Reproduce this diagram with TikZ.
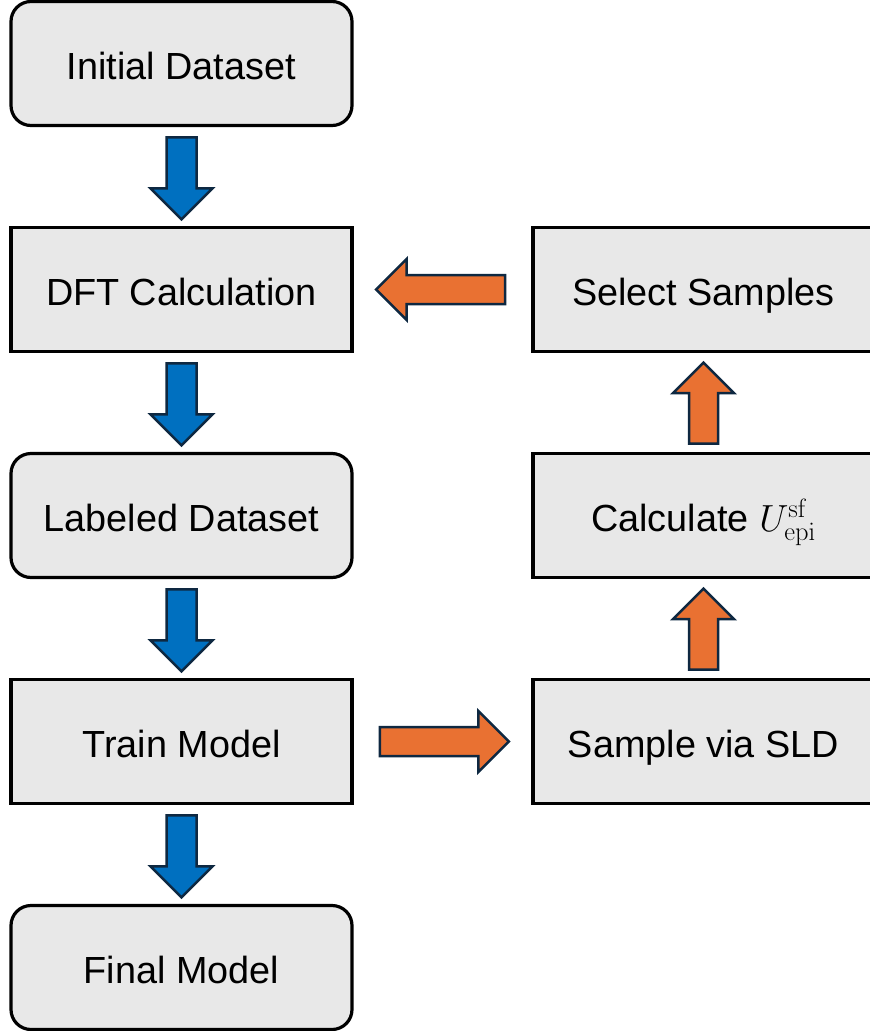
\documentclass[tikz,border=0pt]{standalone}
\usepackage{fix-cm}
\usepackage[no-math]{fontspec}
\setmainfont{Liberation Sans}
\usetikzlibrary{shapes.arrows,calc}
\definecolor{boxgray}{HTML}{E8E8E8}
\definecolor{flowblue}{HTML}{0070C0}
\definecolor{loopred}{HTML}{E97132}
\definecolor{edgenavy}{HTML}{0E2841}
\tikzset{
  stage/.style={draw=black,line width=3.2pt,fill=boxgray,minimum width=341pt,
    minimum height=124pt,inner sep=0pt,text height=36pt,text depth=5pt,
    font=\fontsize{37.8}{45}\selectfont},
  roundstage/.style={stage,rounded corners=20pt},
  blockarrow/.style={single arrow,draw=edgenavy,line width=2.5pt,inner xsep=0pt,
    single arrow head extend=16pt,anchor=tail},
  downflow/.style={blockarrow,fill=flowblue,inner ysep=13.75pt,minimum height=82pt,rotate=-90},
  loopflow/.style={blockarrow,fill=loopred,inner ysep=13.25pt}
}
\begin{document}
\begin{tikzpicture}[x=1pt,y=-1pt]
  \useasboundingbox (0,0) rectangle (870,1031);
  % left column
  \node[roundstage] (init) at (181.5,63.5) {Initial Dataset};
  \node[stage] (dft) at (181.5,289.5) {DFT Calculation};
  \node[roundstage] (labeled) at (181.5,515.5) {Labeled Dataset};
  \node[stage] (train) at (181.5,741.5) {Train Model};
  \node[roundstage] (final) at (181.5,967.5) {Final Model};
  % right column
  \node[stage] (select) at (703.5,289.5) {Select Samples};
  \node[stage] (calc) at (703.5,515.5) {Calculate $U^{\mathrm{sf}}_{\mathrm{epi}}$};
  \node[stage] (sample) at (703.5,741.5) {Sample via SLD};
  % arrows
  \node[downflow] (a1) at ($(init.south)+(0,9)$) {};
  \node[downflow] (a2) at ($(dft.south)+(0,9)$) {};
  \node[downflow] (a3) at ($(labeled.south)+(0,9)$) {};
  \node[downflow] (a4) at ($(train.south)+(0,9)$) {};
  \node[loopflow,minimum height=129pt] (b1) at ($(train.east)+(25,0)$) {};
  \node[loopflow,minimum height=81pt,rotate=90] (b2) at ($(sample.north)+(0,-7)$) {};
  \node[loopflow,minimum height=81pt,rotate=90] (b3) at ($(calc.north)+(0,-7)$) {};
  \node[loopflow,minimum height=129pt,rotate=180] (b4) at ($(select.west)+(-25,0)$) {};
\end{tikzpicture}
\end{document}
